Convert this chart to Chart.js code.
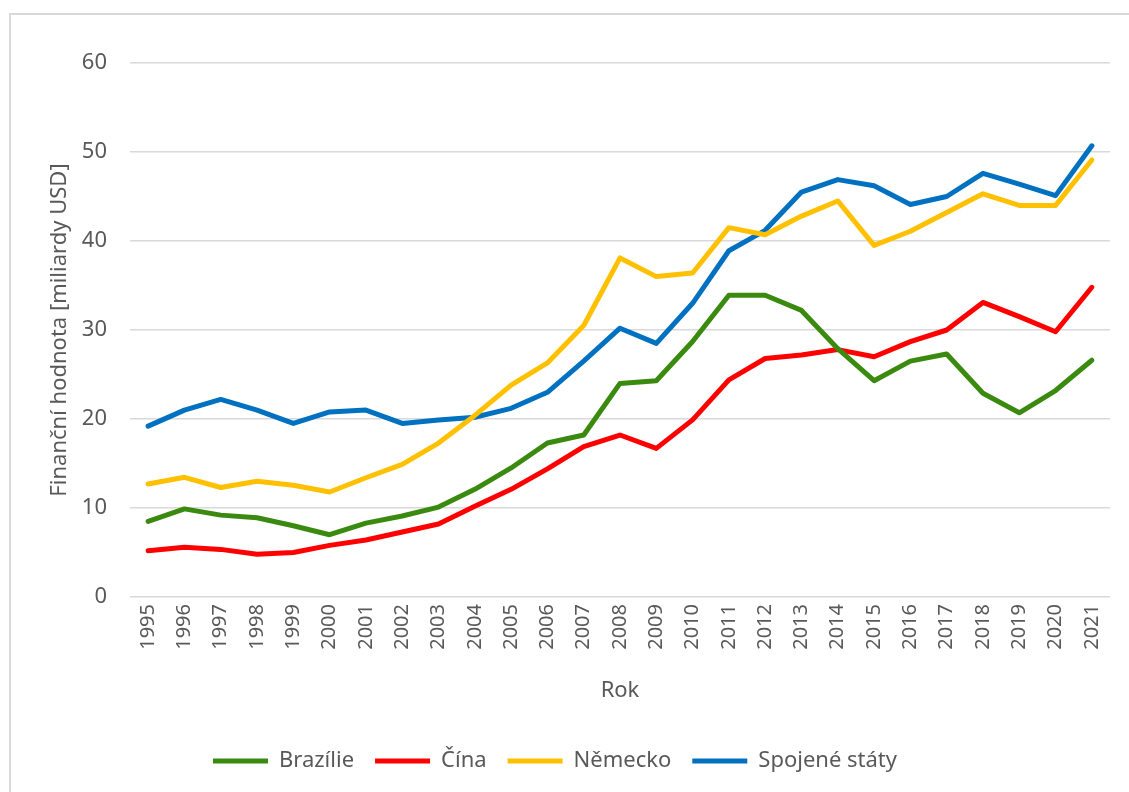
<!DOCTYPE html>
<html>
<head>
<meta charset="utf-8">
<script src="https://cdn.jsdelivr.net/npm/chart.js@4"></script>
<style>
  html, body { margin: 0; padding: 0; background: #fff; overflow: hidden; }
  #wrap { position: relative; width: 1129px; height: 792px; }
  #frame {
    position: absolute; left: 9px; top: 13px; width: 1300px; height: 900px;
    border: 2px solid #d9d9d9; box-sizing: border-box;
  }
  canvas { position: absolute; left: 0; top: 0; }
</style>
</head>
<body>
<div id="wrap">
  <div id="frame"></div>
  <canvas id="chart" width="1129" height="792"></canvas>
</div>
<script>
// data
const years = [
  '1995', '1996', '1997', '1998', '1999', '2000', '2001', '2002', '2003',
  '2004', '2005', '2006', '2007', '2008', '2009', '2010', '2011', '2012',
  '2013', '2014', '2015', '2016', '2017', '2018', '2019', '2020', '2021'
];
const brazil = [8.5, 9.9, 9.2, 8.9, 8.0, 7.0, 8.3, 9.1, 10.1, 12.1, 14.5, 17.3, 18.2, 24.0, 24.3, 28.7, 33.9, 33.9, 32.2, 27.9, 24.3, 26.5, 27.3, 22.9, 20.7, 23.2, 26.6];
const china = [5.2, 5.6, 5.35, 4.8, 5.0, 5.8, 6.4, 7.3, 8.2, 10.2, 12.1, 14.4, 16.9, 18.2, 16.7, 19.9, 24.4, 26.8, 27.2, 27.8, 27.0, 28.7, 30.0, 33.1, 31.5, 29.8, 34.8];
const germany = [12.7, 13.45, 12.3, 13.0, 12.55, 11.8, 13.4, 14.9, 17.3, 20.4, 23.8, 26.3, 30.5, 38.1, 36.0, 36.4, 41.5, 40.7, 42.8, 44.5, 39.5, 41.1, 43.2, 45.3, 44.0, 44.0, 49.1];
const usa = [19.2, 21.0, 22.2, 21.0, 19.5, 20.8, 21.0, 19.5, 19.9, 20.2, 21.2, 23.0, 26.5, 30.2, 28.5, 33.0, 38.9, 41.2, 45.5, 46.9, 46.2, 44.1, 45.0, 47.6, 46.4, 45.1, 50.7];
const yTicks = [0, 10, 20, 30, 40, 50, 60];

const textColor = '#595959';
const fontFamily = '"Noto Sans", "Open Sans", sans-serif';

function makeSeries(label, data, color) {
  return {
    label: label,
    data: data,
    borderColor: color,
    backgroundColor: color,
    borderWidth: 5,
    borderCapStyle: 'round',
    borderJoinStyle: 'round',
    pointRadius: 0,
    pointHoverRadius: 0,
    tension: 0,
    fill: false
  };
}

const ctx = document.getElementById('chart').getContext('2d');
new Chart(ctx, {
  type: 'line',
  data: {
    labels: years,
    datasets: [
      makeSeries('Brazílie', brazil, '#3b8a10'),
      makeSeries('Čína', china, '#ff0000'),
      makeSeries('Německo', germany, '#ffc000'),
      makeSeries('Spojené státy', usa, '#0070c0')
    ]
  },
  options: {
    responsive: false,
    animation: false,
    devicePixelRatio: 1,
    layout: {
      padding: { top: 63, left: 0, right: 19, bottom: 10 }
    },
    scales: {
      x: {
        offset: true,
        grid: { display: false, drawTicks: false },
        border: { display: false },
        ticks: {
          color: textColor,
          font: { family: fontFamily, size: 20 },
          minRotation: 90,
          maxRotation: 90,
          padding: 7,
          autoSkip: false
        },
        title: {
          display: true,
          text: 'Rok',
          color: textColor,
          font: { family: fontFamily, size: 22 },
          padding: { top: 4, bottom: 25 }
        },
        afterFit: (scale) => { scale.height = 132; }
      },
      y: {
        min: 0,
        max: 60,
        afterBuildTicks: (scale) => {
          scale.ticks = yTicks.map(v => ({ value: v }));
        },
        grid: { color: '#d9d9d9', lineWidth: 1.5, drawTicks: false },
        border: { display: false },
        ticks: {
          color: textColor,
          font: { family: fontFamily, size: 22 },
          padding: 23
        },
        title: {
          display: true,
          text: 'Finanční hodnota [miliardy USD]',
          color: textColor,
          font: { family: fontFamily, size: 22 },
          padding: { top: 47, bottom: 0 }
        },
        afterFit: (scale) => { scale.width = 130; }
      }
    },
    plugins: {
      legend: {
        position: 'bottom',
        labels: {
          color: textColor,
          font: { family: fontFamily, size: 22 },
          usePointStyle: true,
          pointStyle: 'line',
          pointStyleWidth: 55,
          boxWidth: 55,
          padding: 21
        }
      },
      tooltip: { enabled: false }
    }
  }
});
</script>
</body>
</html>
